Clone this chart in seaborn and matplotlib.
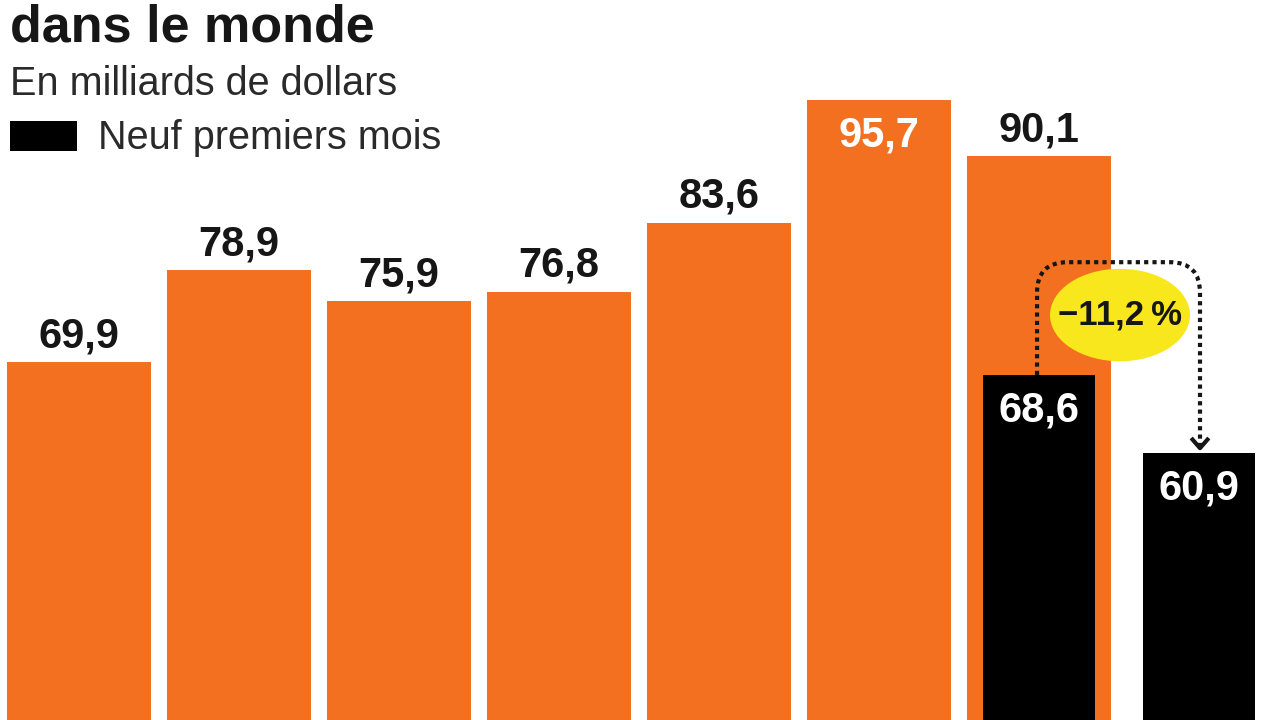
import matplotlib
matplotlib.use("Agg")
import matplotlib.pyplot as plt
import seaborn as sns
import numpy as np
from matplotlib.patches import Ellipse, Rectangle
from matplotlib.path import Path
from matplotlib.patches import PathPatch

# ---- data ----
annual_pos = [0, 1, 2, 3, 4, 5, 6]
annual_values = [69.9, 78.9, 75.9, 76.8, 83.6, 95.7, 90.1]
nine_month_pos = [6, 7]
nine_month_values = [68.6, 60.9]
change_label = "\u221211,2\u2009%"
title = "dans le monde"
subtitle = "En milliards de dollars"
legend_label = "Neuf premiers mois"

ORANGE = "#F37021"
DARK = "#161616"
YELLOW = "#F8E71C"

sns.set_theme(style="white")
plt.rcParams["font.family"] = ["Liberation Sans", "DejaVu Sans"]

fig = plt.figure(figsize=(12.8, 7.2), dpi=100)
ax = fig.add_axes([0, 0, 1, 1])

sns.barplot(x=annual_pos, y=annual_values, native_scale=True, width=0.9,
            color=ORANGE, saturation=1, ax=ax, zorder=2, linewidth=0,
            edgecolor="none")
sns.barplot(x=nine_month_pos, y=nine_month_values, native_scale=True, width=0.7,
            color="black", saturation=1, ax=ax, zorder=3, linewidth=0,
            edgecolor="none")

ax.set_xlim(-0.494, 7.506)
ax.set_ylim(34.65, 105.5)
ax.axis("off")

lab_fs = 30
vmax = max(annual_values)
for x, v in zip(annual_pos, annual_values):
    s = f"{v:.1f}".replace(".", ",")
    if v == vmax:
        ax.text(x, v - 1.6, s, ha="center", va="top", color="white",
                fontsize=lab_fs, fontweight="bold", zorder=5)
    else:
        ax.text(x, v + 1.45, s, ha="center", va="baseline", color=DARK,
                fontsize=lab_fs, fontweight="bold", zorder=5)
for x, v in zip(nine_month_pos, nine_month_values):
    s = f"{v:.1f}".replace(".", ",")
    ax.text(x, v - 1.5, s, ha="center", va="top", color="white",
            fontsize=lab_fs, fontweight="bold", zorder=5)

# dotted connector from first black bar to second
x0 = nine_month_pos[0] - 0.0125
x1 = nine_month_pos[1] + 0.006
ytop = 79.7
rx, ry = 0.19, 3.0
y_start = nine_month_values[0]
y_end = nine_month_values[1] + 0.5
verts = [(x0, y_start), (x0, ytop - ry), (x0, ytop), (x0 + rx, ytop),
         (x1 - rx, ytop), (x1, ytop), (x1, ytop - ry), (x1, y_end)]
codes = [Path.MOVETO, Path.LINETO, Path.CURVE3, Path.CURVE3,
         Path.LINETO, Path.CURVE3, Path.CURVE3, Path.LINETO]
ax.add_patch(PathPatch(Path(verts, codes), fill=False, edgecolor=DARK, lw=3,
                       linestyle=(0, (1, 1)), zorder=4))
# arrow head (chevron)
ax.plot([x1 - 0.055, x1, x1 + 0.055], [y_end + 1.0, y_end, y_end + 1.0],
        color=DARK, lw=3, solid_capstyle="butt", zorder=4)

ax.add_patch(Ellipse((6.506, 74.5), 0.875, 9.1, facecolor=YELLOW,
                     edgecolor="none", zorder=4))
ax.text(6.506, 74.5, change_label, ha="center", va="center", color=DARK,
        fontsize=25, fontweight="bold", zorder=5,
        family=["Liberation Sans", "DejaVu Sans"])

# titles
fig.text(10 / 1280, 1 - 42 / 720, title, ha="left", va="baseline",
         fontsize=37.5, fontweight="bold", color=DARK)
fig.text(10 / 1280, 1 - 95 / 720, subtitle, ha="left", va="baseline",
         fontsize=28.5, color="#2a2a2a")
fig.patches.append(Rectangle((10 / 1280, 1 - 151 / 720), 67 / 1280, 30 / 720,
                             transform=fig.transFigure, facecolor="black",
                             edgecolor="none"))
fig.text(98 / 1280, 1 - 149 / 720, legend_label, ha="left", va="baseline",
         fontsize=28.5, color="#2a2a2a")

fig.savefig("out.png", dpi=100)
